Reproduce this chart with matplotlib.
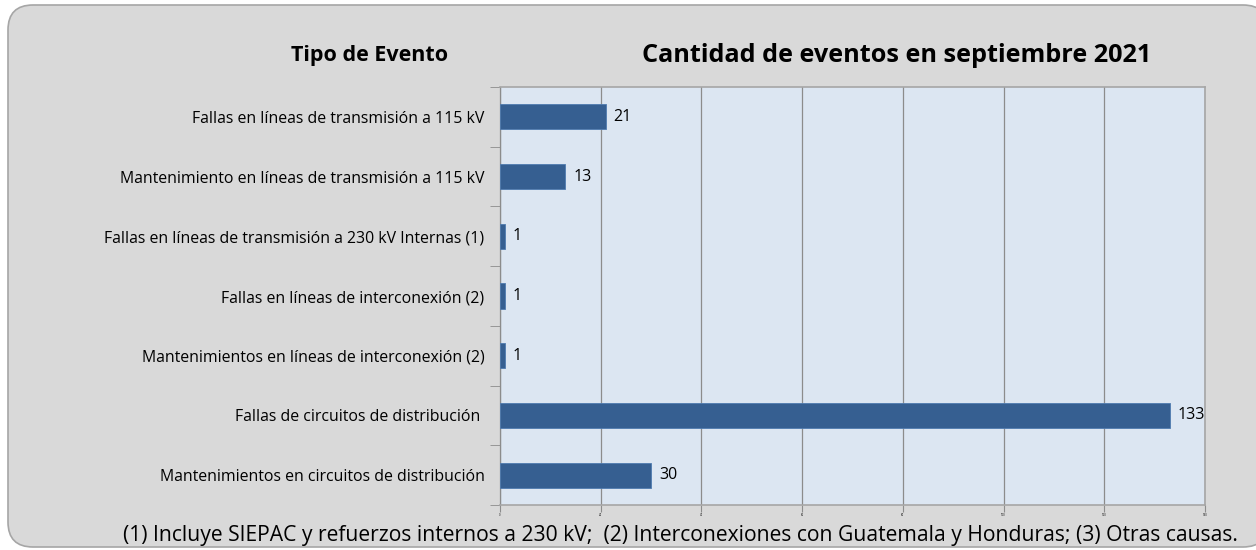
import numpy as np
import matplotlib.pyplot as plt
from matplotlib.patches import FancyBboxPatch

categorias = [
    'Fallas en líneas de transmisión a 115 kV',
    'Mantenimiento en líneas de transmisión a 115 kV',
    'Fallas en líneas de transmisión a 230 kV Internas (1)',
    'Fallas en líneas de interconexión (2)',
    'Mantenimientos en líneas de interconexión (2)',
    'Fallas de circuitos de distribución ',
    'Mantenimientos en circuitos de distribución',
]
eventos = [21, 13, 1, 1, 1, 133, 30]
x_ticks = [0, 20, 40, 60, 80, 100, 120, 140]

plt.rcParams['font.family'] = ['Open Sans', 'DejaVu Sans']

fig = plt.figure(figsize=(12.56, 5.5), dpi=100)
fig.patch.set_facecolor('white')

# fondo gris con esquinas redondeadas
fondo = FancyBboxPatch((0.08, 0.03), 12.6, 5.42,
                       boxstyle='round,pad=0,rounding_size=0.25',
                       transform=fig.dpi_scale_trans,
                       facecolor='#d9d9d9', edgecolor='#a6a6a6', linewidth=1.2,
                       zorder=-10)
fig.patches.append(fondo)

ax = fig.add_axes([0.398, 0.0818, 0.5614, 0.76])
ax.set_facecolor('#dce6f2')

y = np.arange(len(categorias))
ax.barh(y, eventos, height=0.42, color='#365f91', edgecolor='#4f7bb0', linewidth=0.6, zorder=3)
for yi, v in zip(y, eventos):
    ax.text(v + 1.6, yi, str(v), va='center', ha='left', fontsize=11.5, color='black')

ax.set_ylim(len(categorias) - 0.5, -0.5)
ax.set_xlim(0, 140)
ax.set_xticks(x_ticks)
ax.set_xticklabels([str(t) for t in x_ticks], fontsize=2)
ax.xaxis.grid(True, color='#8c8c8c', linewidth=0.9, zorder=1)

ax.set_yticks(y)
ax.set_yticklabels(categorias, fontsize=11.4)
ax.set_yticks(np.arange(-0.5, len(categorias)), minor=True)
ax.tick_params(axis='y', which='major', length=0, pad=11)
ax.tick_params(axis='y', which='minor', length=7, color='#8c8c8c', direction='out')
ax.tick_params(axis='x', length=5, color='#8c8c8c', pad=1)

for s in ax.spines.values():
    s.set_color('#a6a6a6')
    s.set_linewidth(1.2)
ax.spines['left'].set_color('#8c8c8c')
ax.spines['left'].set_linewidth(0.9)

fig.text(370 / 1256, 1 - 56 / 550, 'Tipo de Evento', ha='center', va='center',
         fontsize=15.5, fontweight='bold')
fig.text(897 / 1256, 1 - 55 / 550, 'Cantidad de eventos en septiembre 2021', ha='center',
         va='center', fontsize=18.2, fontweight='bold')
fig.text(680 / 1256, 1 - 536 / 550,
         '(1) Incluye SIEPAC y refuerzos internos a 230 kV;  (2) Interconexiones con Guatemala y Honduras; (3) Otras causas.',
         ha='center', va='center', fontsize=15.2)

fig.savefig('out.png', dpi=100)
